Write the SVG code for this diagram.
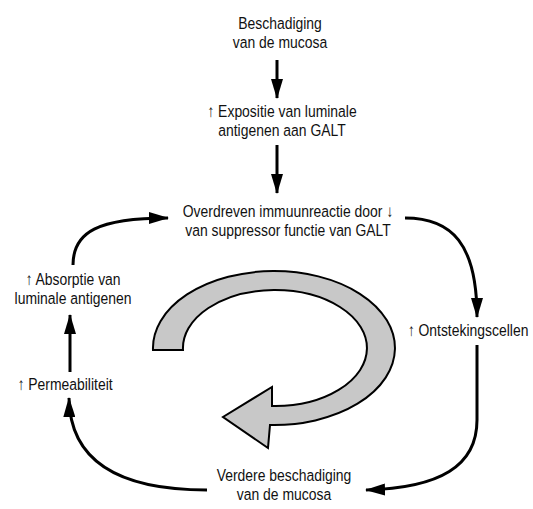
<svg xmlns="http://www.w3.org/2000/svg" width="533" height="509" viewBox="0 0 533 509">
<defs>
<marker id="ah" markerWidth="20" markerHeight="12" refX="19" refY="6" orient="auto" markerUnits="userSpaceOnUse">
<path d="M0,0 L20,6 L0,12 Z" fill="#000"/>
</marker>
<style>
text{font-family:"Liberation Sans",Arial,"DejaVu Sans",sans-serif;font-size:17px;fill:#111;text-anchor:middle}
.c{fill:none;stroke:#000;stroke-width:3;marker-end:url(#ah)}
</style>
</defs>
<rect width="533" height="509" fill="#fff"/>
<g id="cycle">
<path d="M153,350 A121,77 0 1 1 270,425 L268,448 L223,417 L272,387 L272,406 A92,58 0 1 0 183,350 Z" fill="#c8c8c8" stroke="#000" stroke-width="2"/>
</g>
<g id="connectors">
<path class="c" d="M277,60 L277,98"/>
<path class="c" d="M277,145 L277,193"/>
<path class="c" d="M73,265 C73,232 98,218 168,218"/>
<path class="c" d="M405,218 C452,218 477,244 477,317"/>
<path class="c" d="M477,345 L477,420 C477,466 440,488 366,490"/>
<path class="c" d="M207,490 C120,490 70,462 69,398"/>
<path class="c" d="M70,372 L70,315"/>
</g>
<g id="n1"><text transform="translate(280,29) scale(0.82,1)">Beschadiging</text><text transform="translate(280,47.5) scale(0.82,1)">van de mucosa</text></g>
<g id="n2"><text transform="translate(282,117) scale(0.82,1)">↑ Expositie van luminale</text><text transform="translate(282,135.5) scale(0.82,1)">antigenen aan GALT</text></g>
<g id="n3"><text transform="translate(288,217) scale(0.82,1)">Overdreven immuunreactie door ↓</text><text transform="translate(288,235.5) scale(0.82,1)">van suppressor functie van GALT</text></g>
<g id="n4"><text transform="translate(468,336) scale(0.82,1)">↑ Ontstekingscellen</text></g>
<g id="n5"><text transform="translate(284,481) scale(0.82,1)">Verdere beschadiging</text><text transform="translate(284,499.5) scale(0.82,1)">van de mucosa</text></g>
<g id="n6"><text transform="translate(65,390) scale(0.82,1)">↑ Permeabiliteit</text></g>
<g id="n7"><text transform="translate(73,285) scale(0.82,1)">↑ Absorptie van</text><text transform="translate(73,303.5) scale(0.82,1)">luminale antigenen</text></g>
</svg>
